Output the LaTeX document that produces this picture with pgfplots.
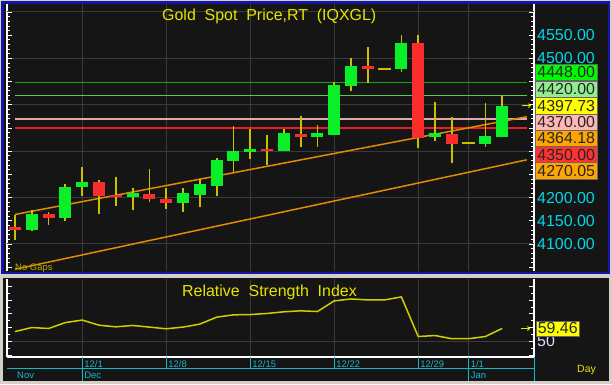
\documentclass[border=0pt]{standalone}
\usepackage{fontspec}
\setmainfont{Liberation Sans}
\usepackage{pgfplots}
\usepackage{pgfplotstable}
\pgfplotsset{compat=1.18}
\usetikzlibrary{arrows.meta}
\definecolor{bg}{RGB}{21,21,21}
\definecolor{gridc}{RGB}{58,58,58}
\definecolor{frameg}{RGB}{212,208,200}
\definecolor{frameb}{RGB}{20,20,170}
\definecolor{wick}{RGB}{200,192,0}
\definecolor{upc}{RGB}{10,240,40}
\definecolor{dnc}{RGB}{250,45,45}
\definecolor{ttl}{RGB}{230,230,0}
\definecolor{axc}{RGB}{0,215,230}
\definecolor{datec}{RGB}{20,185,200}
\definecolor{trend}{RGB}{225,140,0}
\definecolor{lgA}{RGB}{20,165,20}
\definecolor{lgB}{RGB}{85,200,85}
\definecolor{lpink}{RGB}{225,170,170}
\definecolor{lred}{RGB}{235,30,30}
\definecolor{bxA}{RGB}{0,250,0}
\definecolor{bxB}{RGB}{144,238,144}
\definecolor{bxC}{RGB}{255,255,0}
\definecolor{bxD}{RGB}{255,182,182}
\definecolor{bxE}{RGB}{255,165,0}
\definecolor{bxF}{RGB}{255,50,50}
\definecolor{lav}{RGB}{215,215,255}
\definecolor{nogap}{RGB}{175,170,0}

\pgfplotstableread{
i open high low close
1 4129.5 4173.0 4129.0 4164.0
3 4156.7 4228.7 4149.6 4223.5
4 4221.8 4265.3 4203.4 4233.4
7 4201.0 4221.3 4173.0 4209.0
10 4189.0 4221.0 4169.0 4209.4
11 4205.6 4240.0 4180.4 4228.7
12 4225.6 4285.3 4203.4 4281.0
13 4278.9 4354.3 4255.8 4300.4
14 4298.3 4347.8 4283.2 4305.4
16 4300.4 4347.0 4300.0 4338.6
18 4331.3 4356.5 4308.4 4338.6
19 4335.6 4449.8 4335.0 4442.7
20 4440.5 4500.2 4429.7 4484.3
23 4477.2 4550.4 4471.3 4532.5
25 4331.3 4405.4 4322.6 4338.6
28 4315.5 4403.2 4308.4 4332.8
29 4330.6 4419.0 4330.0 4397.73
}\upc

\pgfplotstableread{
i open high low close
0 4136.6 4162.5 4108.6 4129.5
2 4164.0 4169.0 4141.0 4157.0
5 4234.0 4237.0 4164.0 4204.3
6 4205.6 4243.8 4182.5 4201.9
8 4208.4 4261.0 4191.0 4196.3
9 4197.2 4221.3 4175.4 4188.0
15 4305.4 4335.0 4271.0 4300.4
17 4337.7 4375.9 4308.4 4331.3
21 4484.3 4525.2 4446.3 4477.8
24 4532.5 4550.4 4306.2 4329.0
26 4337.0 4373.0 4274.0 4316.2
}\dnc

\pgfplotstableread{
i price
22 4477.8
27 4317.7
}\flatc

\pgfplotstableread{
i rsi
0 57.2
1 60.1
2 59.4
3 63.7
4 65.5
5 61.8
6 60.6
7 61.6
8 60.4
9 59.2
10 60.4
11 62.6
12 67.6
13 69.3
14 69.5
15 70.3
16 71.5
17 72.2
18 71.7
19 79.4
20 80.8
21 80.1
22 80.1
23 82.3
24 53.6
25 54.3
26 52.0
27 52.0
28 53.6
29 59.46
}\rsi

\begin{document}
\begin{tikzpicture}[x=1bp,y=1bp]
\useasboundingbox (0,0) rectangle (612,384);
\fill[frameg] (0,0) rectangle (612,384);
\fill[frameb] (1,110) rectangle (610,383);
\fill[bg] (4,112.5) rectangle (607.5,380);
\fill[bg] (3,3) rectangle (609,105.7);

% ---------------- price panel ----------------
\begin{axis}[
  at={(7bp,113bp)}, anchor=south west, scale only axis,
  width=527bp, height=267bp,
  xmin=-0.476, xmax=30.893, ymin=4041.8, ymax=4617.2,
  separate axis lines,
  every outer x axis line/.append style={draw=none},
  every outer y axis line/.append style={white, line width=1.2bp},
  xtick={4,9,14,19,24,27}, xticklabels={}, xtick style={draw=none},
  xmajorgrids,
  ytick={4050,4100,...,4600},
  yticklabels={,4100.00,4150.00,4200.00,4250.00,,,,,4500.00,4550.00,},
  minor y tick num=4,
  tick align=inside, ytick pos=both, yticklabel pos=right,
  major tick length=5bp, minor tick length=3bp,
  ytick style={white, line width=0.8bp},
  extra y ticks={4100,4200,...,4600}, extra y tick labels={},
  extra y tick style={grid=major},
  major grid style={gridc, line width=1bp},
  yticklabel style={font=\fontsize{16}{16}\selectfont, text=axc, anchor=west, inner sep=0pt, xshift=3bp},
]
% support / resistance lines
\addplot[lgA, line width=1.6bp] coordinates {(0,4448) (30.46,4448)};
\addplot[lgB, line width=1.6bp] coordinates {(0,4420) (30.46,4420)};
\addplot[lpink, line width=1.6bp] coordinates {(0,4370) (30.46,4370)};
\addplot[lred, line width=1.6bp] coordinates {(0,4350) (30.46,4350)};
% trend lines
\addplot[trend, line width=1.5bp] coordinates {(0,4163.6) (30.46,4374.3)};
\addplot[trend, line width=1.5bp] coordinates {(0,4045.5) (30.46,4281.4)};
% wicks
\addplot[draw=none, mark=none, error bars/.cd, y dir=both, y explicit, error mark=none,
  error bar style={draw=wick, line width=1.8bp}]
  table[x=i, y expr={(\thisrow{high}+\thisrow{low})/2}, y error expr={(\thisrow{high}-\thisrow{low})/2}] {\upc};
\addplot[draw=none, mark=none, error bars/.cd, y dir=both, y explicit, error mark=none,
  error bar style={draw=wick, line width=1.8bp}]
  table[x=i, y expr={(\thisrow{high}+\thisrow{low})/2}, y error expr={(\thisrow{high}-\thisrow{low})/2}] {\dnc};
% bodies
\addplot[draw=none, mark=none, error bars/.cd, y dir=both, y explicit, error mark=none,
  error bar style={draw=upc, line width=12bp}]
  table[x=i, y expr={(\thisrow{open}+\thisrow{close})/2}, y error expr={abs(\thisrow{close}-\thisrow{open})/2}] {\upc};
\addplot[draw=none, mark=none, error bars/.cd, y dir=both, y explicit, error mark=none,
  error bar style={draw=dnc, line width=12bp}]
  table[x=i, y expr={(\thisrow{open}+\thisrow{close})/2}, y error expr={abs(\thisrow{close}-\thisrow{open})/2}] {\dnc};
% flat (holiday) candles
\addplot[draw=none, mark=none, error bars/.cd, x dir=both, x explicit, error mark=none,
  error bar style={draw=wick, line width=2bp}]
  table[x=i, y=price, x error expr={0.38}] {\flatc};
\end{axis}

% price labels on the right
\foreach \yc/\col/\txt in {72.3/bxA/4448.00, 89.0/bxB/4420.00, 105.7/bxC/4397.73, 122.2/bxD/4370.00, 138.5/bxE/4364.18, 154.6/bxF/4350.00, 170.7/bxE/4270.05}{
  \node[fill=\col, draw=black!60, line width=0.5bp, minimum width=62bp, minimum height=16.4bp,
        inner sep=0pt, anchor=west, text=black!85, font=\fontsize{16}{16}\selectfont]
        at (535,384-\yc) {\txt};
}
\draw[ttl, line width=0.8bp, -{Straight Barb[length=2bp]}] (522,278.3) -- (531,278.3);

\node[anchor=base west, inner sep=0pt, text=ttl, font=\fontsize{16}{16}\selectfont] at (162,364) {Gold\ \ Spot\ \ Price,RT\ \ (IQXGL)};
\node[anchor=base west, inner sep=0pt, text=nogap, font=\fontsize{9.5}{10}\selectfont] at (15,113.8) {No Gaps};

% ---------------- RSI panel ----------------
\begin{axis}[
  at={(7bp,27bp)}, anchor=south west, scale only axis,
  width=527bp, height=78bp,
  xmin=-0.476, xmax=30.893, ymin=38.74, ymax=95.27,
  separate axis lines,
  every outer x axis line/.append style={draw=none},
  every outer y axis line/.append style={white, line width=1.2bp},
  xtick={4,9,14,19,24,27}, xticklabels={12/1,12/8,12/15,12/22,12/29,1/1},
  xtick style={draw=none}, xmajorgrids,
  xticklabel style={font=\fontsize{9.5}{10}\selectfont, text=datec, anchor=north west, inner sep=0pt, xshift=2bp, yshift=-3.5bp},
  ytick={40,50,...,90}, yticklabels={}, minor y tick num=1,
  tick align=inside, ytick pos=both, yticklabel pos=right,
  major tick length=5bp, minor tick length=3bp,
  ytick style={white, line width=0.8bp},
  extra y ticks={50}, extra y tick labels={50},
  extra y tick style={grid=major, yticklabel style={text=lav}},
  major grid style={gridc, line width=1bp},
  yticklabel style={font=\fontsize{16}{16}\selectfont, anchor=west, inner sep=0pt, xshift=3bp},
]
\addplot[ttl!90!black, line width=1.5bp] table[x=i, y=rsi] {\rsi};
\coordinate (d4) at (axis cs:4,38.74);
\coordinate (d9) at (axis cs:9,38.74);
\coordinate (d14) at (axis cs:14,38.74);
\coordinate (d19) at (axis cs:19,38.74);
\coordinate (d24) at (axis cs:24,38.74);
\coordinate (d27) at (axis cs:27,38.74);
\end{axis}

\draw[white, line width=1.2bp] (7,27) -- (534,27);
\draw[datec, line width=1bp] (7,15.7) -- (534,15.7);
\foreach \d in {d9,d14,d19,d24}{ \draw[datec, line width=1bp] (\d) -- ++(0,-11.3); }
\foreach \d in {d4,d27}{ \draw[datec, line width=1bp] (\d) -- ++(0,-24); }
\draw[datec, line width=1bp] (534,27) -- (534,3);
\node[anchor=west, inner sep=0pt, text=datec, font=\fontsize{9.5}{10}\selectfont] at (17,8.7) {Nov};
\node[anchor=west, inner sep=0pt, text=datec, font=\fontsize{9.5}{10}\selectfont] at ([xshift=2bp]d4 |- 0,8.7) {Dec};
\node[anchor=west, inner sep=0pt, text=datec, font=\fontsize{9.5}{10}\selectfont] at ([xshift=2bp]d27 |- 0,8.7) {Jan};
\node[anchor=west, inner sep=0pt, text=ttl, font=\fontsize{10.5}{11}\selectfont] at (577,14) {Day};

\node[fill=bxC, draw=black!60, line width=0.5bp, minimum width=43bp, minimum height=15bp,
      inner sep=0pt, anchor=west, text=black!85, font=\fontsize{16}{16}\selectfont] at (536,55.5) {59.46};
\draw[ttl, line width=0.8bp, -{Straight Barb[length=2bp]}] (521,55.5) -- (530,55.5);

\node[anchor=base west, inner sep=0pt, text=ttl, font=\fontsize{16}{16}\selectfont] at (182,88) {Relative\ \ Strength\ \ Index};
\end{tikzpicture}
\end{document}
